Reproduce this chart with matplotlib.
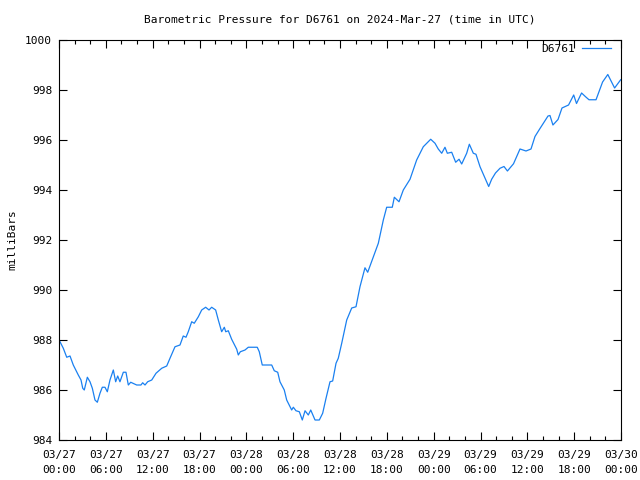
import matplotlib
matplotlib.use("Agg")
import matplotlib.pyplot as plt
from matplotlib.ticker import MultipleLocator, FixedLocator

# Hours since 2024-03-27 00:00 UTC
hours = [0, 0.13, 0.55, 0.99, 1.41, 1.83, 2.47, 2.82, 3.04, 3.24, 3.63, 3.97, 4.27, 4.61, 4.91,
         5.25, 5.55, 5.89, 6.19, 6.53, 6.96, 7.26, 7.52, 7.81, 8.24, 8.58, 8.88, 9.19, 9.95,
         10.5, 10.72, 11.02, 11.36, 11.88, 12.43, 13.16, 13.8, 14.22, 14.86, 15.5, 15.92,
         16.27, 16.56, 17.0, 17.33, 17.85, 18.28, 18.79, 19.22, 19.56, 20.07, 20.41, 20.84,
         21.18, 21.36, 21.69, 22.12, 22.77, 22.97, 23.23, 23.83, 24.25, 25.4, 25.66, 26.04,
         27.25, 27.58, 28.02, 28.31, 28.86, 29.17, 29.81, 30.02, 30.36, 30.79, 31.17, 31.52,
         31.94, 32.25, 32.8, 33.35, 33.78, 34.21, 34.72, 35.06, 35.49, 35.78, 36.22, 36.86,
         37.5, 38.05, 38.56, 39.2, 39.55, 40.27, 40.91, 41.55, 41.98, 42.7, 42.96, 43.56,
         44.11, 44.97, 45.82, 46.67, 47.11, 47.62, 48.17, 48.59, 49.03, 49.45, 49.75, 50.31,
         50.82, 51.25, 51.59, 52.23, 52.57, 53.08, 53.42, 53.94, 54.79, 55.05, 55.43, 55.92,
         56.5, 57.01, 57.45, 58.23, 59.06, 59.83, 60.47, 60.98, 61.58, 62.65, 62.9, 63.28,
         63.93, 64.44, 65.28, 65.94, 66.3, 66.95, 67.46, 67.9, 68.8, 69.64, 70.31, 71.18, 71.96]
pressure = [988.0, 987.93, 987.67, 987.31, 987.36, 987.0, 986.6, 986.4, 986.07, 986.0, 986.51,
            986.33, 986.07, 985.6, 985.51, 985.87, 986.11, 986.11, 985.93, 986.4, 986.8, 986.33,
            986.56, 986.33, 986.71, 986.71, 986.2, 986.31, 986.2, 986.2, 986.29, 986.2, 986.33,
            986.4, 986.67, 986.87, 986.96, 987.27, 987.73, 987.8, 988.16, 988.11, 988.33, 988.73,
            988.67, 988.93, 989.2, 989.31, 989.2, 989.31, 989.2, 988.8, 988.33, 988.51, 988.33,
            988.37, 988.03, 987.63, 987.4, 987.53, 987.6, 987.71, 987.71, 987.53, 987.0, 987.0,
            986.77, 986.71, 986.33, 986.0, 985.6, 985.2, 985.31, 985.17, 985.13, 984.8, 985.17,
            985.0, 985.2, 984.8, 984.8, 985.07, 985.67, 986.33, 986.36, 987.07, 987.27, 987.87,
            988.8, 989.28, 989.33, 990.13, 990.89, 990.71, 991.33, 991.87, 992.8, 993.31, 993.31,
            993.71, 993.53, 994.0, 994.43, 995.2, 995.73, 995.87, 996.03, 995.87, 995.64, 995.47,
            995.71, 995.47, 995.51, 995.11, 995.23, 995.04, 995.47, 995.83, 995.47, 995.43,
            994.93, 994.33, 994.14, 994.43, 994.68, 994.87, 994.94, 994.76, 995.05, 995.64,
            995.56, 995.64, 996.14, 996.44, 996.96, 996.98, 996.6, 996.82, 997.28, 997.4, 997.8,
            997.46, 997.88, 997.73, 997.61, 997.61, 998.32, 998.62, 998.08, 998.41]

tick_hours = [0, 6, 12, 18, 24, 30, 36, 42, 48, 54, 60, 66, 72]
tick_labels = ["03/27\n00:00", "03/27\n06:00", "03/27\n12:00", "03/27\n18:00",
               "03/28\n00:00", "03/28\n06:00", "03/28\n12:00", "03/28\n18:00",
               "03/29\n00:00", "03/29\n06:00", "03/29\n12:00", "03/29\n18:00",
               "03/30\n00:00"]
y_ticks = [984, 986, 988, 990, 992, 994, 996, 998, 1000]

title = "Barometric Pressure for D6761 on 2024-Mar-27 (time in UTC)"
series_name = "D6761"
ylabel = "milliBars"

plt.rcParams['font.family'] = ['DejaVu Sans Mono']
plt.rcParams['font.size'] = 8

fig = plt.figure(figsize=(6.4, 4.8), dpi=100)
ax = fig.add_axes([59/640, 1-440/480, (621-59)/640, 400/480])

ax.plot(hours, pressure, color='#1a80f0', lw=0.9, label=series_name)

ax.set_xlim(0, 72)
ax.set_ylim(984, 1000)
ax.xaxis.set_major_locator(FixedLocator(tick_hours))
ax.set_xticklabels(tick_labels, linespacing=1.6)
ax.xaxis.set_minor_locator(MultipleLocator(2))
ax.yaxis.set_major_locator(FixedLocator(y_ticks))
ax.set_yticklabels([str(v) for v in y_ticks])

ax.tick_params(axis='both', which='both', direction='in', top=True, right=True,
               color='black', labelsize=8)
ax.tick_params(axis='both', which='major', length=6, width=0.8)
ax.tick_params(axis='x', which='minor', length=3, width=0.8)
ax.tick_params(axis='x', which='major', pad=7)
ax.tick_params(axis='y', which='major', pad=5)
for s in ax.spines.values():
    s.set_linewidth(0.8)

fig.text(340/640, 1-20/480, title, ha='center', va='center', fontsize=8)
fig.text(12/640, 0.5, ylabel, rotation=90, ha='center', va='center', fontsize=8)

leg = ax.legend(loc='center right', bbox_to_anchor=((611 - 59) / 562, 1 - (49 - 40) / 400),
                frameon=False, markerfirst=False, handlelength=2.6,
                handletextpad=0.6, borderaxespad=0.0, borderpad=0.0, fontsize=8)

fig.savefig("out.png", dpi=100)
